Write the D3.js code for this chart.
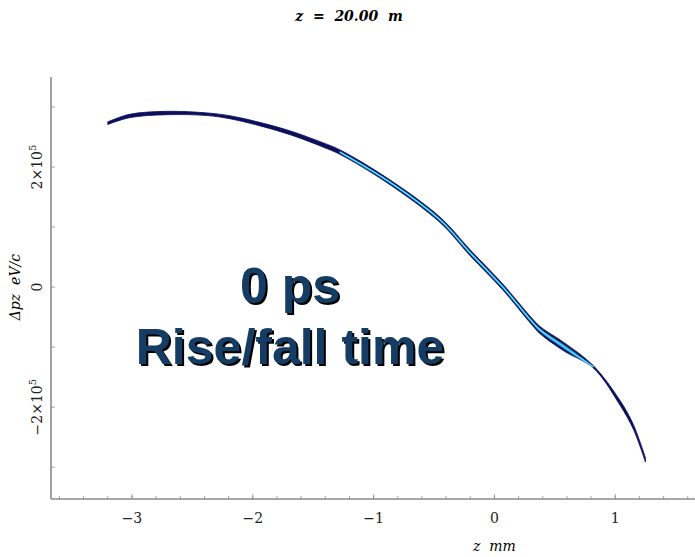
<!DOCTYPE html>
<html>
<head>
<meta charset="utf-8">
<script src="https://cdn.jsdelivr.net/npm/d3@7"></script>
<style>
  body { margin: 0; background: #fff; }
  svg { display: block; }
</style>
</head>
<body>
<svg id="chart" width="695" height="557"></svg>
<script>
// longitudinal phase space at z = 20 m : position along bunch (mm) vs momentum offset (eV/c)
var zPos   = [-3.20, -3.02, -2.71, -2.38, -2.19, -1.97, -1.69, -1.42, -1.28, -0.89, -0.45, -0.20, 0.07, 0.30, 0.38, 0.58, 0.82, 1.04, 1.15, 1.25];
var dPz    = [2.73e5, 2.85e5, 2.90e5, 2.88e5, 2.83e5, 2.73e5, 2.57e5, 2.37e5, 2.25e5, 1.78e5, 1.12e5, 0.57e5, 0, -0.55e5, -0.72e5, -1.00e5, -1.33e5, -1.93e5, -2.33e5, -2.88e5];
// half width of the particle band around the centre line (eV/c)
var spread = [0.022e5, 0.028e5, 0.028e5, 0.022e5, 0.025e5, 0.028e5, 0.032e5, 0.036e5, 0.038e5, 0.04e5, 0.045e5, 0.05e5, 0.05e5, 0.055e5, 0.06e5, 0.07e5, 0.02e5, 0.04e5, 0.04e5, 0.035e5];
// dense core of the bunch
var coreFrom = 8, coreTo = 16;

var xTicks = [-3, -2, -1, 0, 1];
var xMinor = d3.range(-3.6, 1.7, 0.2);
var yTicks = [-2e5, 0, 2e5];
var yMinor = [-3e5, -2e5, -1e5, 0, 1e5, 2e5, 3e5];

var svg = d3.select("#chart");
var mLeft = 51, mRight = 695, mTop = 77, mBottom = 499;

var x = d3.scaleLinear().domain([-3.67, 1.66]).range([mLeft, mRight]);
var y = d3.scaleLinear().domain([-3.53e5, 3.5e5]).range([mBottom, mTop]);

var serif = "'DejaVu Serif', serif";

// title
svg.append("text")
    .attr("x", 349).attr("y", 21)
    .attr("text-anchor", "middle")
    .attr("xml:space", "preserve")
    .style("font-family", serif).style("font-style", "italic").style("font-weight", "bold")
    .style("font-size", "14px")
    .text("z  =  20.00  m");

// axes lines
var axisCol = "#8a8a8a";
svg.append("line").attr("x1", mLeft).attr("x2", mLeft).attr("y1", mTop).attr("y2", mBottom)
    .attr("stroke", axisCol).attr("stroke-width", 1.6);
svg.append("line").attr("x1", mLeft).attr("x2", mRight).attr("y1", mBottom).attr("y2", mBottom)
    .attr("stroke", axisCol).attr("stroke-width", 1.6);

// x ticks, drawn inward
svg.selectAll(".xminor").data(xMinor).enter().append("line")
    .attr("x1", function(d){ return x(d); }).attr("x2", function(d){ return x(d); })
    .attr("y1", mBottom).attr("y2", mBottom - 3)
    .attr("stroke", axisCol).attr("stroke-width", 0.8);
svg.selectAll(".xmajor").data(xTicks).enter().append("line")
    .attr("x1", function(d){ return x(d); }).attr("x2", function(d){ return x(d); })
    .attr("y1", mBottom).attr("y2", mBottom - 5)
    .attr("stroke", axisCol).attr("stroke-width", 0.8);
svg.selectAll(".xlab").data(xTicks).enter().append("text")
    .attr("x", function(d){ return x(d); }).attr("y", 523)
    .attr("text-anchor", "middle")
    .style("font-family", serif).style("font-size", "14px").attr("fill", "#222")
    .text(function(d){ return d < 0 ? "\u2212" + Math.abs(d) : d; });

// y ticks
svg.selectAll(".yminor").data(yMinor).enter().append("line")
    .attr("x1", mLeft).attr("x2", mLeft + 4)
    .attr("y1", function(d){ return y(d); }).attr("y2", function(d){ return y(d); })
    .attr("stroke", axisCol).attr("stroke-width", 0.8);

var ylab = svg.selectAll(".ylab").data(yTicks).enter().append("text")
    .attr("transform", function(d){ return "translate(42," + y(d) + ") rotate(-90)"; })
    .attr("text-anchor", "middle")
    .style("font-family", serif).style("font-size", "14px").attr("fill", "#222");
ylab.each(function(d){
    var t = d3.select(this);
    if (d == 0) { t.text("0"); return; }
    t.append("tspan").text((d < 0 ? "\u2212" : "") + Math.abs(d / 1e5) + "\u00d710");
    t.append("tspan").attr("dy", -6).style("font-size", "10px").text("5");
});

// axis titles
svg.append("text")
    .attr("transform", "translate(20," + y(0) + ") rotate(-90)")
    .attr("text-anchor", "middle")
    .attr("xml:space", "preserve")
    .style("font-family", serif).style("font-style", "italic").style("font-size", "14px")
    .text("\u0394pz  eV/c");
svg.append("text")
    .attr("x", x(0)).attr("y", 551)
    .attr("text-anchor", "middle")
    .attr("xml:space", "preserve")
    .style("font-family", serif).style("font-style", "italic").style("font-size", "14px")
    .text("z  mm");

// particle band
var pts = zPos.map(function(z, i){ return { z: z, p: dPz[i], s: spread[i] }; });

var band = d3.area()
    .x(function(d){ return x(d.z); })
    .y0(function(d){ return y(d.p - d.s); })
    .y1(function(d){ return y(d.p + d.s); })
    .curve(d3.curveCatmullRom);

svg.append("path").datum(pts)
    .attr("d", band)
    .attr("fill", "#0b0f5c").attr("stroke", "#0b0f5c").attr("stroke-width", 0.8);

var core = pts.slice(coreFrom, coreTo + 1);
var coreBand = d3.area()
    .x(function(d){ return x(d.z); })
    .y0(function(d){ return y(d.p - d.s * 0.5); })
    .y1(function(d){ return y(d.p + d.s * 0.5); })
    .curve(d3.curveCatmullRom);
svg.append("path").datum(core)
    .attr("d", coreBand)
    .attr("fill", "#2f8fe0");
svg.append("path").datum(core)
    .attr("d", d3.line().x(function(d){ return x(d.z); }).y(function(d){ return y(d.p); }).curve(d3.curveCatmullRom))
    .attr("fill", "none").attr("stroke", "#55e8f2").attr("stroke-width", 1.2);

// overlay caption with drop shadow
var caption = ["0 ps", "Rise/fall time"];
var capY = [303, 364];
var capG = svg.append("g")
    .style("font-family", "'Liberation Sans', Arial, sans-serif")
    .style("font-weight", "bold").style("font-size", "50px")
    .attr("text-anchor", "middle");
capG.selectAll(".shadow").data(caption).enter().append("text")
    .attr("x", 290).attr("y", function(d, i){ return capY[i] + 2; })
    .attr("dx", 2)
    .attr("fill", "#000")
    .text(function(d){ return d; });
capG.selectAll(".cap").data(caption).enter().append("text")
    .attr("x", 290).attr("y", function(d, i){ return capY[i]; })
    .attr("fill", "#153c63")
    .text(function(d){ return d; });
</script>
</body>
</html>
